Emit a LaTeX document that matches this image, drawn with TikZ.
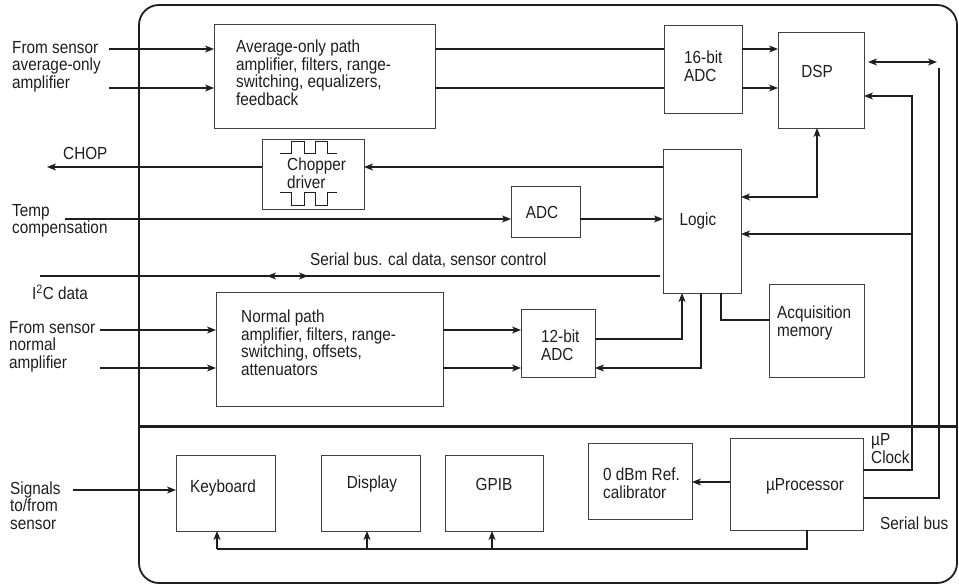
\documentclass[tikz,border=0pt]{standalone}
\usepackage{fontspec}
\setmainfont{Liberation Sans}[FakeStretch=0.875]
\usepackage{tikz}
\usetikzlibrary{positioning, arrows.meta, calc}
\definecolor{lineInk}{HTML}{1E1E1E}
\definecolor{boxInk} {HTML}{404040}

\begin{document}
\begin{tikzpicture}[x=1pt, y=-1pt,
    blk/.style={draw=boxInk, line width=1pt, anchor=north west, inner sep=0, outer sep=0},
    txt/.style={font=\fontsize{17.5}{17.5}\selectfont, align=left, inner sep=0, text=lineInk},
    wire/.style={draw=lineInk, line width=1.1pt},
    arr/.style={wire, -{Stealth[length=9pt, width=7pt, inset=2.5pt]}},
    dbl/.style={wire, {Stealth[length=9pt, width=7pt, inset=2.5pt]}-{Stealth[length=9pt, width=7pt, inset=2.5pt]}},
  ]
  \useasboundingbox (0,0) rectangle (959,586);

  % instrument outline, measurement half above, control half below
  \node[blk, draw=lineInk, line width=1.8pt, rounded corners=20pt,
        minimum width=818pt, minimum height=578pt] (unit) at (139,5) {};
  \coordinate (split) at (0,426);
  \draw[lineInk, line width=3pt] (unit.west |- split) -- (unit.east |- split);

  % blocks: name / left / top / width / height
  \foreach \n/\x/\y/\w/\h in
    {avg/214/25/221/103, adcA/664/26/78/87, dsp/778/33/86/95,
     chop/262/139/102/70, adc/511/186/69/51, logic/663/149/78/144,
     norm/216/292/227/114, adcB/521/309/74/68, acq/769/284/95/93,
     kbd/176/455/99/76, disp/321/455/99/76, gpib/445/455/98/76,
     cal/588/443/104/76, mup/730/438/133/92}{
    \node[blk, minimum width=\w pt, minimum height=\h pt] (\n) at (\x,\y) {};
  }

  % block texts
  \node[txt, anchor=west] (avgT) at (236,72.5)
    {Average-only path\\amplifier, filters, range-\\switching, equalizers,\\feedback};
  \node[txt, anchor=west] (adcAT) at (684,66) {16-bit\\ADC};
  \node[txt] (dspT) at (817,71) {DSP};
  \node[txt, anchor=west] (chopT) at (287,173) {Chopper\\driver};
  \node[txt] (adcT) at (542,212) {ADC};
  \node[txt] (logicT) at (698,221) {Logic};
  \node[txt, anchor=west] (normT) at (241,342.5)
    {Normal path\\amplifier, filters, range-\\switching, offsets,\\attenuators};
  \node[txt, anchor=west] (adcBT) at (541,345) {12-bit\\ADC};
  \node[txt, anchor=west] (acqT) at (777,323) {Acquisition\\memory};
  \node[txt] (kbdT) at (223,488) {Keyboard};
  \node[txt] (dispT) at (372,484) {Display};
  \node[txt] (gpibT) at (494,484) {GPIB};
  \node[txt, anchor=west] (calT) at (603,483) {0 dBm Ref.\\calibrator};
  \node[txt] (mupT) at (805,486) {µProcessor};

  % chopper waveforms
  \draw[wire, line width=1pt] ($(chop.north west)+(18,14)$) -- ++(11,0) -- ++(0,-12)
    -- ++(13,0) -- ++(0,12) -- ++(11,0) -- ++(0,-12) -- ++(12,0) -- ++(0,12) -- ++(10,0);
  \draw[wire, line width=1pt] ($(chop.north west)+(18,53)$) -- ++(11,0) -- ++(0,13)
    -- ++(13,0) -- ++(0,-13) -- ++(11,0) -- ++(0,13) -- ++(12,0) -- ++(0,-13) -- ++(10,0);

  % outside labels
  \node[txt, anchor=west] (srcA) at (12,66.5) {From sensor\\average-only\\amplifier};
  \node[txt, anchor=west] (chopL) at (63,153) {CHOP};
  \node[txt, anchor=west] (tempL) at (12,221) {Temp\\compensation};
  \node[txt, anchor=west] (i2cL) at (32,292) {I\textsuperscript{2}C data};
  \node[txt, anchor=west] (srcN) at (9,346.5) {From sensor\\normal\\amplifier};
  \node[txt, anchor=west] (sigL) at (10,505.5) {Signals\\to/from\\sensor};
  \node[txt, anchor=west] (busL) at (310,260) {Serial bus. cal data, sensor control};
  \node[txt, anchor=west] (clkL) at (871,448.5) {µP\\Clock};
  \node[txt, anchor=west] (sbL) at (880,523) {Serial bus};

  % average-only path
  \coordinate (inA1) at (109,49);
  \coordinate (inA2) at (109,88);
  \foreach \c in {inA1, inA2}{
    \draw[arr] (\c) -- (\c -| avg.west);
    \draw[wire] (\c -| avg.east) -- (\c -| adcA.west);
    \draw[arr] (\c -| adcA.east) -- (\c -| dsp.west);
  }

  % serial bus round the right side
  \coordinate (sbTip) at (937,62);
  \coordinate (sbTop) at (939,68);
  \coordinate (sbLow) at (939,498);
  \draw[dbl] ($(dsp.east |- sbTip)+(4,0)$) -- (sbTip);
  \draw[wire] (mup.east |- sbLow) -- (sbLow) -- (sbTop);

  % uP clock
  \coordinate (clkLow) at (912,470);
  \coordinate (clkTop) at (912,96);
  \coordinate (clkMid) at (912,234);
  \draw[arr] (mup.east |- clkLow) -- (clkLow) -- (clkTop) -- (clkTop -| dsp.east);
  \draw[arr] (clkMid) -- (clkMid -| logic.east);

  % DSP <-> logic
  \coordinate (dl) at (817,197);
  \draw[dbl] (dl |- dsp.south) -- (dl) -- (dl -| logic.east);

  % chopper drive
  \coordinate (chY) at (47,167);
  \draw[arr] (chY -| logic.west) -- (chY -| chop.east);
  \draw[arr] (chY -| chop.west) -- (chY);

  % temperature
  \coordinate (tmp) at (65,219);
  \draw[arr] (tmp) -- (tmp -| adc.west);
  \draw[arr] (tmp -| adc.east) -- (tmp -| logic.west);

  % I2C line
  \coordinate (i2c) at (40,276);
  \coordinate (i2cEnd) at (660,276);
  \draw[wire] (i2c) -- (i2cEnd);
  \coordinate (sbA) at (267,276);
  \coordinate (sbB) at (308,276);
  \draw[dbl] (sbA) -- (sbB);

  % normal path
  \coordinate (inN1) at (100,330);
  \coordinate (inN2) at (100,368);
  \foreach \c in {inN1, inN2}{
    \draw[arr] (\c) -- (\c -| norm.west);
    \draw[arr] (\c -| norm.east) -- (\c -| adcB.west);
  }
  \coordinate (bl) at (682,339);
  \draw[arr] (bl -| adcB.east) -- (bl) -- (bl |- logic.south);
  \coordinate (lb) at (701,368);
  \draw[arr] (lb |- logic.south) -- (lb) -- (lb -| adcB.east);
  \coordinate (la) at (721,320);
  \draw[wire] (la |- logic.south) -- (la) -- (la -| acq.west);

  % control half
  \coordinate (sig) at (73,490);
  \draw[arr] (sig) -- (sig -| kbd.west);
  \coordinate (mc) at (700,482);
  \draw[arr] (mc -| mup.west) -- (mc -| cal.east);
  \coordinate (bus) at (807,549);
  \coordinate (busEnd) at (217,549);
  \draw[wire] (bus |- mup.south) -- (bus) -- (busEnd);
  \foreach \x/\b in {217/kbd, 367/disp, 492/gpib}{
    \coordinate (tap) at (\x,549);
    \draw[arr] (tap) -- (tap |- \b.south);
  }
\end{tikzpicture}
\end{document}
